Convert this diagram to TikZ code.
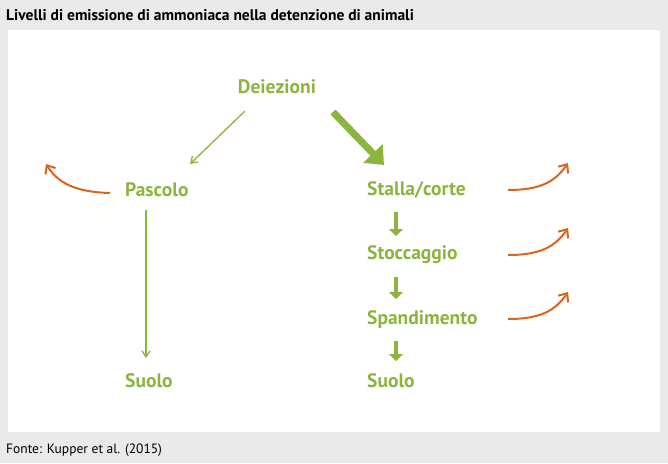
\documentclass[tikz,border=0pt]{standalone}
\usepackage{fontspec}
\setmainfont{PT Sans}
\usetikzlibrary{arrows.meta}
\definecolor{gr}{HTML}{8DB43E}
\definecolor{orng}{HTML}{D9661F}
\definecolor{bg}{HTML}{EAEAEA}
\begin{document}
\begin{tikzpicture}[x=1pt,y=-1pt,
  lab/.style={text=gr,font=\bfseries\fontsize{19.5}{22}\selectfont,inner sep=1pt},
  thin/.style={draw=gr,line width=1.3,-{Straight Barb[length=6,width=8]}},
  thick/.style={draw=gr,line width=4,-{Triangle[length=7,width=14]}},
  em/.style={draw=orng,line width=2,-{Straight Barb[length=7,width=12]}}]
\useasboundingbox (0,0) rectangle (668,463);
\fill[bg] (0,0) rectangle (668,463);
\fill[white] (8,30) rectangle (660,432);
\node[anchor=west,font=\bfseries\fontsize{15.5}{18}\selectfont,inner sep=0] (t) at (6,15) {Livelli di emissione di ammoniaca nella detenzione di animali};
\node[anchor=west,font=\fontsize{13.5}{16}\selectfont,inner sep=0] (f) at (6,450) {Fonte: Kupper et al. (2015)};
\node[lab] (d) at (277,87) {Deiezioni};
\node[lab,anchor=west] (p) at (124,190) {Pascolo};
\node[lab,anchor=west] (s) at (366,190) {Stalla/corte};
\node[lab,anchor=west] (st) at (366,255) {Stoccaggio};
\node[lab,anchor=west] (sp) at (366,319) {Spandimento};
\node[lab,anchor=west] (sl) at (124,381) {Suolo};
\node[lab,anchor=west] (sr) at (366,381) {Suolo};
\coordinate (a1) at (245,111); \coordinate (a2) at (190,164);
\draw[thin] (a1) -- (a2);
\coordinate (b1) at (333,112); \coordinate (b2) at (384,165);
\draw[draw=gr,line width=7,-{Triangle[length=16,width=26]}] (b1) -- (b2);
\coordinate (c1) at (146,210); \coordinate (c2) at (146,358);
\draw[thin] (c1) -- (c2);
\foreach \u/\v in {212/236,277/299,341/361}{
  \draw[thick] (396,\u) -- (396,\v);}
\coordinate (l1) at (110,193); \coordinate (l2) at (46,164);
\draw[em] (l1) .. controls (75,192) and (58,183) .. (l2);
\foreach \y in {190,255,319}{
  \draw[em] (508,\y) .. controls (540,\y) and (555,\y-8) .. (568,\y-27);}
\end{tikzpicture}
\end{document}
